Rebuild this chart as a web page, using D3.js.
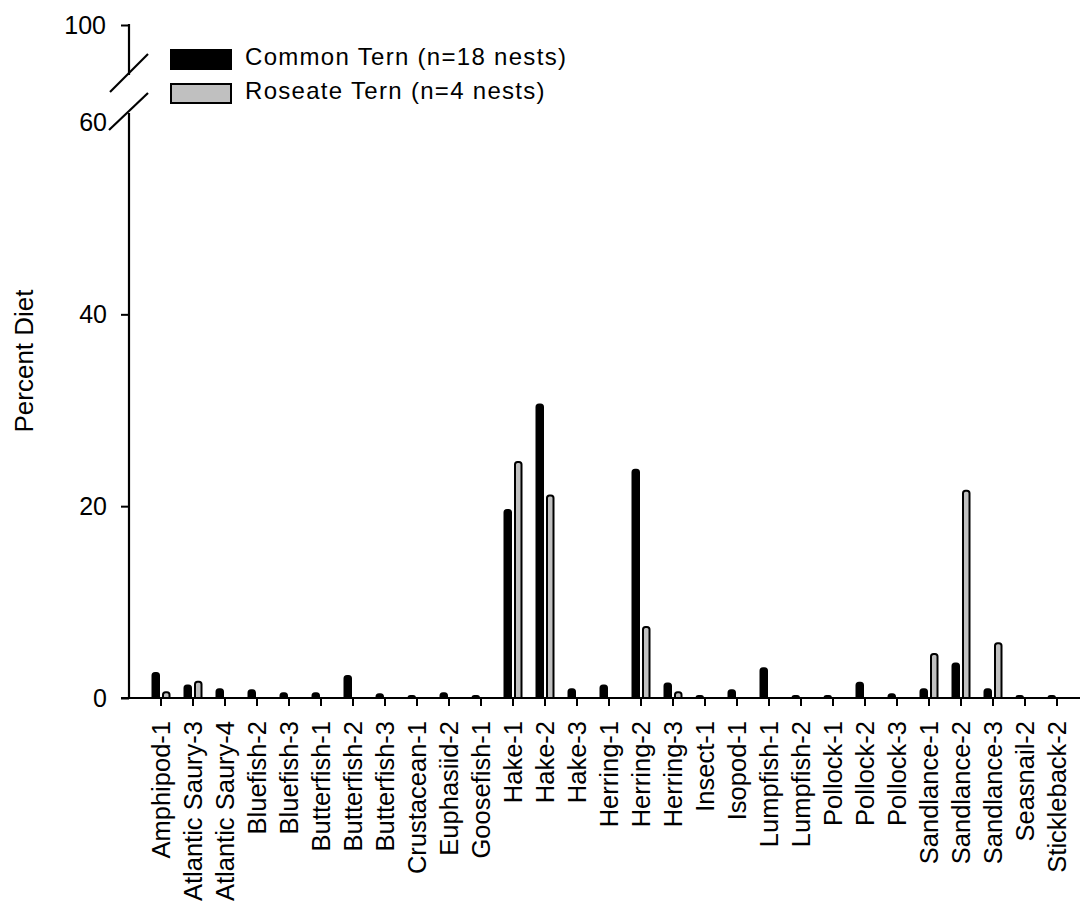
<!DOCTYPE html>
<html>
<head>
<meta charset="utf-8">
<script src="https://cdn.jsdelivr.net/npm/d3@7"></script>
<style>
  html, body { margin: 0; padding: 0; background: #fff; }
  svg { display: block; }
  text { font-family: "Liberation Sans", Arial, sans-serif; fill: #000; }
</style>
</head>
<body>
<svg id="chart" width="1082" height="909"></svg>
<script>
// Prey categories (x axis)
const categories = [
  "Amphipod-1", "Atlantic Saury-3", "Atlantic Saury-4", "Bluefish-2", "Bluefish-3",
  "Butterfish-1", "Butterfish-2", "Butterfish-3", "Crustacean-1", "Euphasiid-2",
  "Goosefish-1", "Hake-1", "Hake-2", "Hake-3", "Herring-1", "Herring-2", "Herring-3",
  "Insect-1", "Isopod-1", "Lumpfish-1", "Lumpfish-2", "Pollock-1", "Pollock-2",
  "Pollock-3", "Sandlance-1", "Sandlance-2", "Sandlance-3", "Seasnail-2", "Stickleback-2"
];

// Percent of diet, Common Tern (n=18 nests)
const commonTern = [
  2.6, 1.3, 0.9, 0.8, 0.5,
  0.5, 2.3, 0.4, 0.2, 0.5,
  0.2, 19.6, 30.6, 0.9, 1.3, 23.8, 1.5,
  0.2, 0.8, 3.1, 0.2, 0.2, 1.6,
  0.4, 0.9, 3.6, 0.9, 0.2, 0.2
];

// Percent of diet, Roseate Tern (n=4 nests)
const roseateTern = [
  0.6, 1.7, 0, 0, 0,
  0, 0, 0, 0, 0,
  0, 24.6, 21.1, 0, 0, 7.4, 0.6,
  0, 0, 0, 0, 0, 0,
  0, 4.6, 21.6, 5.7, 0, 0
];

const seriesNames = ["Common Tern (n=18 nests)", "Roseate Tern (n=4 nests)"];
const seriesFill = ["#000000", "#c0c0c0"];

const lowerTicks = [0, 20, 40, 60];
const upperTicks = [100];

const svg = d3.select("#chart");

// Broken y scale: 0-60 on the main segment, 60-100 compressed above the break
const y = d3.scaleLinear().domain([0, 60, 100]).range([698, 122.5, 25]);
const x = d3.scaleBand().domain(categories).range([145, 1073]).padding(0);

const axisX = 129;     // y axis position
const baseY = y(0);
const font = "'Liberation Sans', Arial, sans-serif";

// ---- bars ----
function barPath(x0, x1, v) {
  const top = y(v);
  const h = baseY - top;
  const r = Math.max(0, Math.min(2.5, (x1 - x0) / 2, h));
  return `M${x0},${baseY}V${top + r}Q${x0},${top} ${x0 + r},${top}H${x1 - r}Q${x1},${top} ${x1},${top + r}V${baseY}`;
}

const barW = 6.5;
const series = [commonTern, roseateTern];
series.forEach((vals, s) => {
  svg.append("g")
    .selectAll("path")
    .data(categories.map((c, i) => ({ c, v: vals[i] })).filter(d => d.v > 0))
    .join("path")
    .attr("d", d => {
      const cx = x(d.c) + x.bandwidth() / 2;
      const x0 = s === 0 ? cx - 2 - barW : cx + 2;
      return barPath(x0, x0 + barW, d.v);
    })
    .attr("fill", seriesFill[s])
    .attr("stroke", "#000")
    .attr("stroke-width", 2)
    .attr("stroke-linejoin", "round");
});

// ---- x axis ----
const gx = svg.append("g")
  .attr("transform", `translate(0,${baseY})`)
  .call(d3.axisBottom(x).tickSize(8).tickSizeOuter(0));
gx.select(".domain").remove();
gx.selectAll(".tick line").attr("stroke", "#000").attr("stroke-width", 2);
gx.selectAll(".tick text")
  .attr("transform", "rotate(-90)")
  .attr("text-anchor", "end")
  .attr("x", -23)
  .attr("y", 0)
  .attr("dy", "0.36em")
  .style("font-size", "25.5px")
  .style("font-family", font);
svg.append("line")
  .attr("x1", 121).attr("x2", 1080)
  .attr("y1", baseY).attr("y2", baseY)
  .attr("stroke", "#000").attr("stroke-width", 2.2);

// ---- y axis (two segments with a break) ----
const gyLow = svg.append("g")
  .attr("transform", `translate(${axisX},0)`)
  .call(d3.axisLeft(y).tickValues(lowerTicks).tickSize(8).tickSizeOuter(0));
gyLow.select(".domain").remove();
gyLow.selectAll(".tick line").attr("stroke", "#000").attr("stroke-width", 2)
  .filter(d => d === 60).remove();
gyLow.selectAll(".tick text")
  .attr("x", -22)
  .style("font-size", "25px")
  .style("font-family", font);

const gyUp = svg.append("g")
  .attr("transform", `translate(${axisX},0)`)
  .call(d3.axisLeft(y).tickValues(upperTicks).tickSize(8).tickSizeOuter(0));
gyUp.select(".domain").remove();
gyUp.selectAll(".tick line").attr("stroke", "#000").attr("stroke-width", 2);
gyUp.selectAll(".tick text")
  .attr("x", -23)
  .style("font-size", "25px")
  .style("font-family", font);

// axis segments
svg.append("line")
  .attr("x1", axisX).attr("x2", axisX)
  .attr("y1", baseY + 1).attr("y2", 113)
  .attr("stroke", "#000").attr("stroke-width", 2.2);
svg.append("line")
  .attr("x1", axisX).attr("x2", axisX)
  .attr("y1", 24).attr("y2", 75)
  .attr("stroke", "#000").attr("stroke-width", 2.2);

// break marks
[[110, 92, 148, 54], [109, 130, 148, 93]].forEach(([x1, y1, x2, y2]) => {
  svg.append("line")
    .attr("x1", x1).attr("y1", y1).attr("x2", x2).attr("y2", y2)
    .attr("stroke", "#000").attr("stroke-width", 2.2);
});

// y axis title
svg.append("text")
  .attr("transform", "translate(33,361) rotate(-90)")
  .attr("text-anchor", "middle")
  .style("font-size", "26px")
  .text("Percent Diet");

// ---- legend ----
const legend = svg.append("g");
seriesNames.forEach((name, i) => {
  const ly = 50 + i * 34;
  legend.append("rect")
    .attr("x", 171).attr("y", ly)
    .attr("width", 60).attr("height", 19)
    .attr("fill", seriesFill[i])
    .attr("stroke", "#000").attr("stroke-width", 2);
  legend.append("text")
    .attr("x", 245).attr("y", ly + 15)
    .style("font-size", "24px")
    .style("letter-spacing", "1.3px")
    .text(name);
});
</script>
</body>
</html>
